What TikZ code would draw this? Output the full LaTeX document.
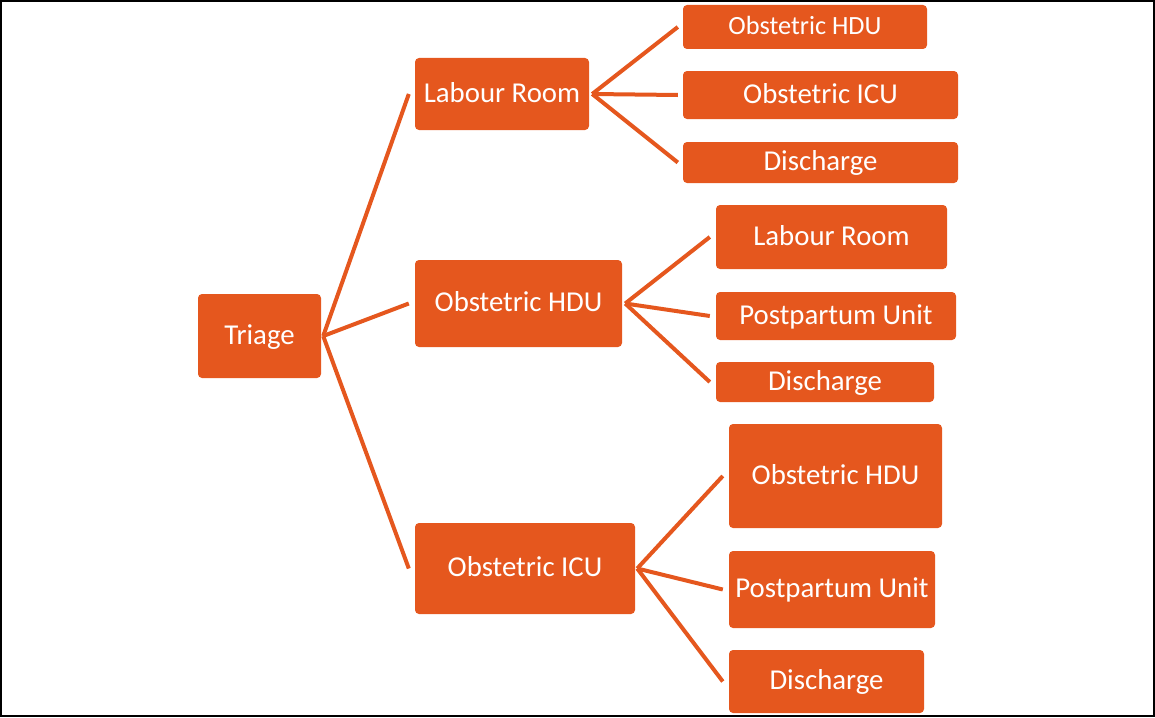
\documentclass[tikz,border=0pt]{standalone}
\usepackage{fontspec}
\setmainfont{Carlito}
\definecolor{wardorange}{RGB}{229,87,30}
\tikzstyle{unit} = [rectangle, rounded corners=4pt, text centered, fill=wardorange, text=white, inner sep=0pt, text height=21.6pt, text depth=5.6pt, font=\fontsize{28.8}{34}\selectfont]
\tikzstyle{edge} = [line width=4pt, draw=wardorange]

\begin{document}
\begin{tikzpicture}[x=1pt, y=-1pt]

\useasboundingbox (0,0) rectangle (1155,717);
\draw [line width=2pt] (1,1) rectangle (1154,716);

\node (0) [unit, minimum width=123pt, minimum height=84pt] at (259.5,336) {Triage};
\node (1) [unit, minimum width=174pt, minimum height=72pt] at (502,94) {Labour Room};
\node (2) [unit, minimum width=207pt, minimum height=87pt] at (518.5,303.5) {Obstetric HDU};
\node (3) [unit, minimum width=220pt, minimum height=91pt] at (525,568.5) {Obstetric ICU};
\node (4) [unit, minimum width=244pt, minimum height=44pt, font=\fontsize{26.3}{31}\selectfont] at (805,27) {Obstetric HDU};
\node (5) [unit, minimum width=275pt, minimum height=48pt] at (820.5,95) {Obstetric ICU};
\node (6) [unit, minimum width=275pt, minimum height=41pt] at (820.5,162.5) {Discharge};
\node (7) [unit, minimum width=231pt, minimum height=64pt] at (831.5,237) {Labour Room};
\node (8) [unit, minimum width=240pt, minimum height=48pt] at (836,316) {Postpartum Unit};
\node (9) [unit, minimum width=218pt, minimum height=40pt] at (825,382) {Discharge};
\node (10) [unit, minimum width=213pt, minimum height=104pt] at (835.5,476) {Obstetric HDU};
\node (11) [unit, minimum width=206pt, minimum height=77pt] at (832,589.5) {Postpartum Unit};
\node (12) [unit, minimum width=195pt, minimum height=63pt] at (826.5,681.5) {Discharge};

\draw [edge] ([xshift=2pt]0.east) -- ([xshift=-6pt]1.west);
\draw [edge] ([xshift=2pt]0.east) -- ([xshift=-6pt]2.west);
\draw [edge] ([xshift=2pt]0.east) -- ([xshift=-6pt]3.west);
\draw [edge] ([xshift=3pt]1.east) -- ([xshift=-5pt]4.west);
\draw [edge] ([xshift=3pt]1.east) -- ([xshift=-5pt]5.west);
\draw [edge] ([xshift=3pt]1.east) -- ([xshift=-5pt]6.west);
\draw [edge] ([xshift=3pt]2.east) -- ([xshift=-6pt]7.west);
\draw [edge] ([xshift=3pt]2.east) -- ([xshift=-6pt]8.west);
\draw [edge] ([xshift=3pt]2.east) -- ([xshift=-6pt]9.west);
\draw [edge] ([xshift=2pt]3.east) -- ([xshift=-6pt]10.west);
\draw [edge] ([xshift=2pt]3.east) -- ([xshift=-6pt]11.west);
\draw [edge] ([xshift=2pt]3.east) -- ([xshift=-6pt]12.west);

\end{tikzpicture}
\end{document}
